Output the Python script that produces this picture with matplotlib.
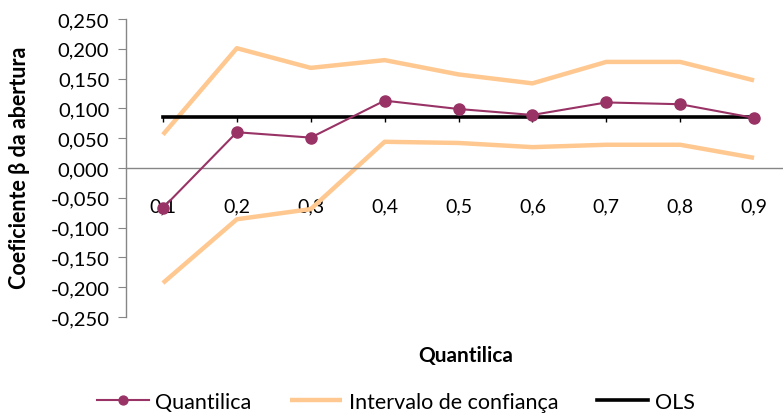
import matplotlib.pyplot as plt
from matplotlib.ticker import FuncFormatter

plt.rcParams['font.family'] = ['Lato', 'DejaVu Sans']

# quantile regression estimates for the "abertura" coefficient
quantis = ['0,1', '0,2', '0,3', '0,4', '0,5', '0,6', '0,7', '0,8', '0,9']
quantilica = [-0.067, 0.060, 0.051, 0.113, 0.099, 0.089, 0.110, 0.107, 0.084]
ic_superior = [0.056, 0.201, 0.168, 0.181, 0.157, 0.142, 0.178, 0.178, 0.147]
ic_inferior = [-0.193, -0.086, -0.069, 0.044, 0.042, 0.035, 0.039, 0.039, 0.017]
ols = [0.086] * len(quantis)

cor_q = '#993366'
cor_ic = '#FFC890'
cinza = '#868686'

fig = plt.figure(figsize=(7.83, 4.14), dpi=100)
ax = fig.add_axes([126 / 783, 1 - 318 / 414, 665 / 783, 298 / 414])

x = list(range(len(quantis)))
ax.plot(x, ic_superior, color=cor_ic, lw=3.2, solid_capstyle='butt', zorder=2,
        label='Intervalo de confiança')
ax.plot(x, ic_inferior, color=cor_ic, lw=3.2, solid_capstyle='butt', zorder=2)
ax.plot(x, ols, color='black', lw=2.6, zorder=3, label='OLS')
# small category ticks hanging under the OLS line
ax.plot(x, [v - 0.003 for v in ols], ls='none', marker='|', markersize=4,
        color='black', zorder=3)
ax.plot(x, quantilica, color=cor_q, lw=1.5, marker='o', markersize=8, zorder=4,
        label='Quantilica')

ax.set_xlim(-0.5, 8.5)
ax.set_ylim(-0.25, 0.25)
ax.set_yticks([-0.25, -0.2, -0.15, -0.1, -0.05, 0, 0.05, 0.1, 0.15, 0.2, 0.25])
ax.yaxis.set_major_formatter(FuncFormatter(lambda v, p: f'{v:.3f}'.replace('.', ',')))
ax.set_xticks(x)
ax.set_xticklabels(quantis)

for s in ['top', 'right']:
    ax.spines[s].set_visible(False)
ax.spines['bottom'].set_position(('data', 0))
ax.spines['bottom'].set_color(cinza)
ax.spines['left'].set_color(cinza)
ax.spines['bottom'].set_linewidth(1)
ax.spines['left'].set_linewidth(1)
ax.tick_params(axis='y', colors=cinza, labelcolor='black', labelsize=14.5,
               length=6, direction='out', pad=6)
ax.tick_params(axis='x', length=0, pad=21, labelsize=14, labelcolor='black')

fig.text(20 / 783, 1 - 168 / 414, 'Coeficiente β da abertura', rotation=90,
         ha='center', va='center', fontsize=15.5, fontweight='bold')
fig.text(466 / 783, 1 - 356 / 414, 'Quantilica', ha='center', va='center',
         fontsize=15, fontweight='bold')

handles, labels = ax.get_legend_handles_labels()
order = [2, 0, 1]
leg = fig.legend([handles[i] for i in order], [labels[i] for i in order],
                 loc='center', bbox_to_anchor=(396 / 783, 1 - 403 / 414), ncol=3,
                 frameon=False, fontsize=15.5, handlelength=2.4, columnspacing=1.8,
                 handletextpad=0.3, borderaxespad=0, markerscale=0.8)

fig.savefig('out.png', dpi=100)
